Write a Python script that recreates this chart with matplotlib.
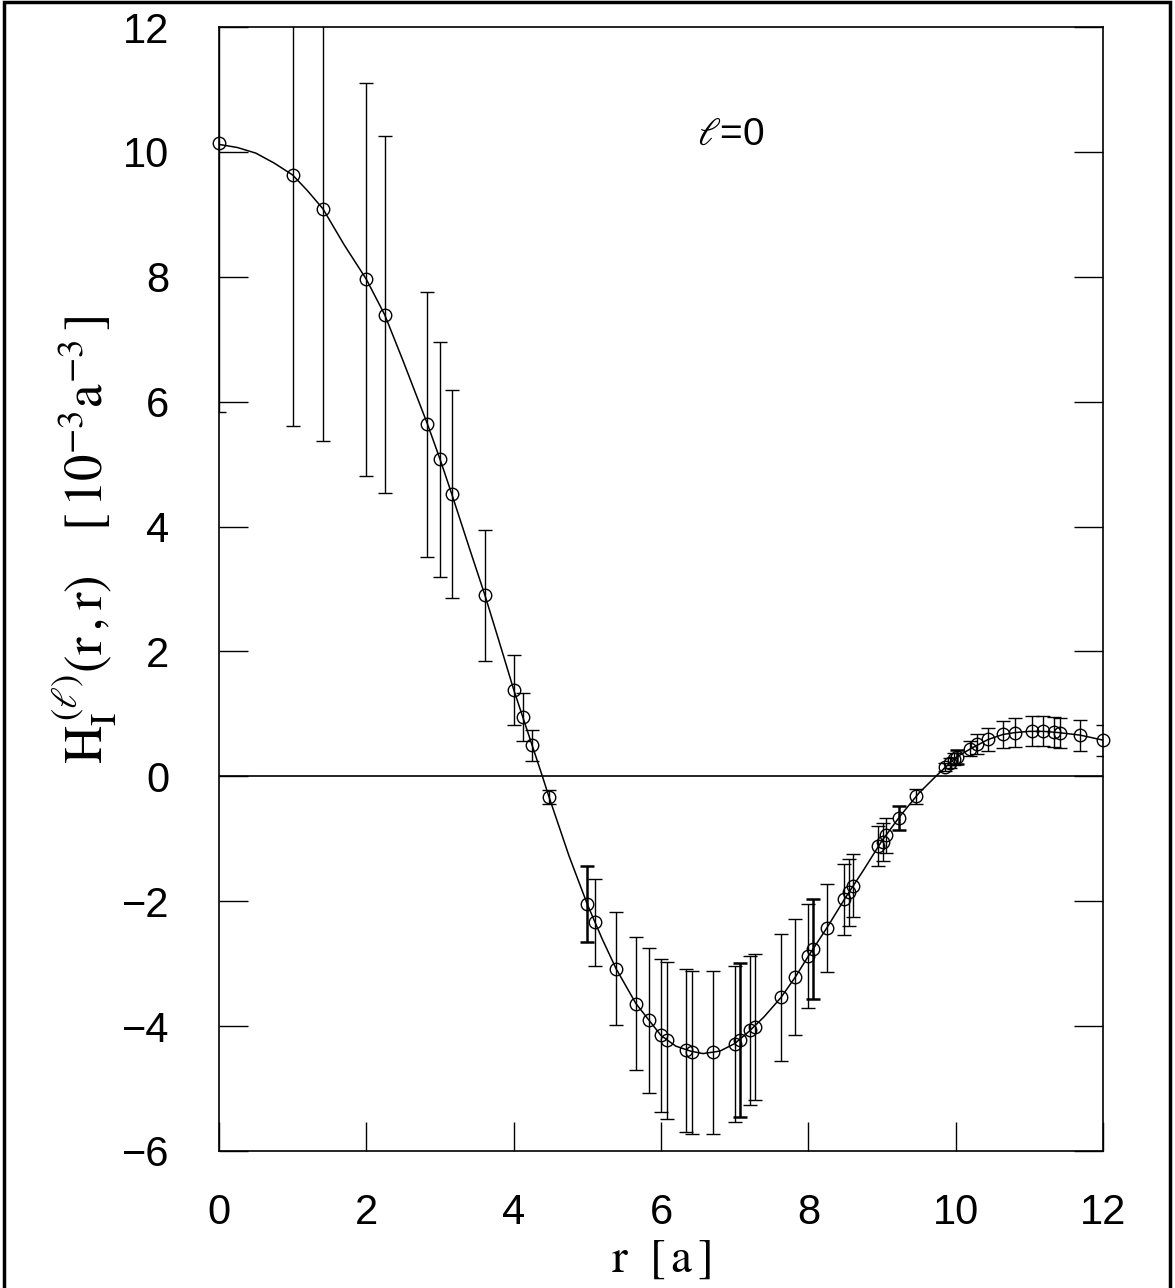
import matplotlib
matplotlib.use("Agg")
import matplotlib.pyplot as plt
from matplotlib.patches import Rectangle

# data points with error bars
r_vals = [0.0, 1.0, 1.41, 2.0, 2.25, 2.83, 3.0, 3.16, 3.61, 4.0,
          4.12, 4.25, 4.48, 5.0, 5.10, 5.39, 5.66, 5.84, 6.0, 6.08,
          6.34, 6.42, 6.71, 7.0, 7.07, 7.21, 7.27, 7.63, 7.82, 8.0,
          8.07, 8.25, 8.49, 8.55, 8.61, 8.95, 9.01, 9.06, 9.23, 9.46,
          9.86, 9.92, 9.98, 10.02, 10.2, 10.29, 10.44, 10.64, 10.80, 11.03,
          11.18, 11.33, 11.41, 11.69, 12.0]
h_vals = [10.14, 9.63, 9.09, 7.96, 7.39, 5.64, 5.08, 4.52, 2.90, 1.39,
          0.95, 0.50, -0.33, -2.05, -2.34, -3.08, -3.64, -3.91, -4.15, -4.23,
          -4.39, -4.42, -4.42, -4.28, -4.22, -4.07, -4.01, -3.54, -3.22, -2.88,
          -2.77, -2.43, -1.97, -1.86, -1.75, -1.12, -1.05, -0.94, -0.67, -0.32,
          0.15, 0.21, 0.28, 0.31, 0.44, 0.51, 0.59, 0.67, 0.70, 0.72,
          0.72, 0.71, 0.70, 0.66, 0.58]
h_errs = [4.31, 4.02, 3.72, 3.15, 2.86, 2.12, 1.88, 1.67, 1.05, 0.56,
          0.39, 0.25, 0.11, 0.61, 0.69, 0.91, 1.07, 1.16, 1.23, 1.25,
          1.30, 1.31, 1.30, 1.25, 1.23, 1.19, 1.17, 1.02, 0.93, 0.83,
          0.80, 0.70, 0.57, 0.53, 0.51, 0.32, 0.30, 0.28, 0.19, 0.12,
          0.07, 0.08, 0.10, 0.11, 0.12, 0.16, 0.19, 0.21, 0.23, 0.24,
          0.24, 0.24, 0.24, 0.25, 0.25]
# points whose bars look heavier
bold_r = [5.0, 7.07, 8.07, 9.23, 10.02]

# smooth fit curve
curve_r = [0.0, 0.25, 0.5, 0.75, 1.0, 1.2, 1.41, 1.7, 2.0, 2.25,
           2.5, 2.83, 3.0, 3.16, 3.4, 3.61, 3.8, 4.0, 4.25, 4.39,
           4.48, 4.75, 5.0, 5.2, 5.39, 5.66, 5.84, 6.0, 6.2, 6.4,
           6.57, 6.8, 7.0, 7.2, 7.4, 7.63, 7.82, 8.0, 8.25, 8.5,
           8.75, 9.0, 9.25, 9.5, 9.73, 10.0, 10.2, 10.44, 10.64, 10.8,
           11.0, 11.2, 11.4, 11.69, 12.0]
curve_h = [10.12, 10.07, 9.98, 9.82, 9.63, 9.38, 9.09, 8.51, 7.96, 7.39,
           6.65, 5.64, 5.08, 4.52, 3.65, 2.90, 2.17, 1.39, 0.50, 0.0,
           -0.33, -1.27, -2.05, -2.60, -3.08, -3.64, -3.91, -4.15, -4.32, -4.40,
           -4.44, -4.40, -4.28, -4.08, -3.85, -3.54, -3.22, -2.88, -2.43, -1.95,
           -1.50, -1.03, -0.63, -0.27, 0.0, 0.30, 0.44, 0.59, 0.67, 0.70,
           0.72, 0.72, 0.70, 0.66, 0.58]

xticks = [0, 2, 4, 6, 8, 10, 12]
yticks = [-6, -4, -2, 0, 2, 4, 6, 8, 10, 12]

plt.rcParams['font.family'] = ['Liberation Sans', 'DejaVu Sans']
plt.rcParams['mathtext.fontset'] = 'stix'

fig = plt.figure(figsize=(11.75, 12.88), dpi=100)
ax = fig.add_axes([219/1175, 1 - 1151/1288, 884/1175, 1124/1288])

ax.plot(curve_r, curve_h, color='black', lw=1.1, zorder=2)
ax.axhline(0, color='black', lw=1.2, zorder=1)

for x, y, e in zip(r_vals, h_vals, h_errs):
    lw = 1.8 if x in bold_r else 1.0
    ax.errorbar(x, y, yerr=e, fmt='none', ecolor='black', elinewidth=lw,
                capsize=5, capthick=lw, zorder=3)
ax.plot(r_vals, h_vals, 'o', ms=9, mfc='none', mec='black', mew=1.0,
        zorder=4, clip_on=False)

ax.set_xlim(0, 12)
ax.set_ylim(-6, 12)
ax.set_xticks(xticks)
ax.set_yticks(yticks)
ax.set_xticklabels([str(t) for t in xticks])
ax.set_yticklabels([str(t).replace('-', '\u2212') for t in yticks])
ax.tick_params(direction='in', length=21, width=1.0, right=True, top=False,
               labelsize=30, colors='black')
ax.tick_params(axis='y', pad=36)
ax.tick_params(axis='x', pad=30)
for s in ax.spines.values():
    s.set_linewidth(1.2)

ax.text(6.94, 10.27, r'$\ell$=0', fontsize=28, ha='center', va='center')

fig.text(85/1175, 1 - 540/1288,
         r'$\mathrm{H}_{\mathrm{I}}^{\,(\ell)}(\mathrm{r\,,r})$   $[\,10^{-3}\mathrm{a}^{-3}\,]$',
         rotation=90, fontsize=38, ha='center', va='center')
fig.text(661/1175, 1 - 1260/1288, r'$\mathrm{r}\ \ [\,\mathrm{a}\,]$',
         fontsize=34, ha='center', va='center')

# outer frame
fig.patches.append(Rectangle((4/1175, -0.02), 1166/1175, 1.0 - 2/1288 + 0.02,
                             transform=fig.transFigure, fill=False,
                             edgecolor='black', lw=2.5))

fig.savefig('out.png', dpi=100)
